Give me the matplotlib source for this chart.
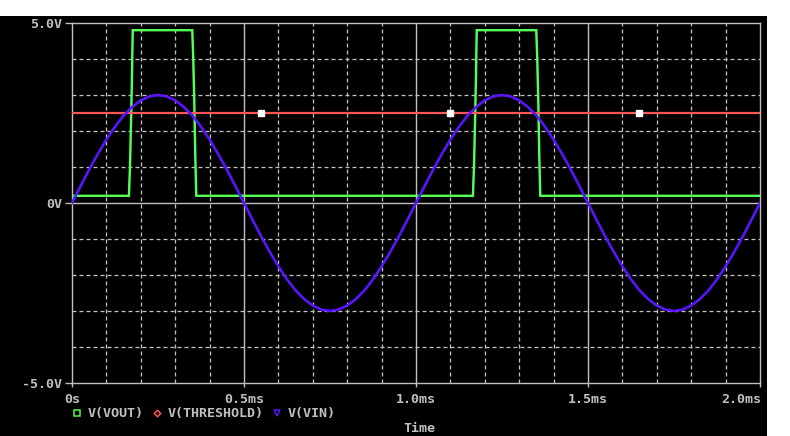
import numpy as np
import matplotlib
matplotlib.use("Agg")
import matplotlib.pyplot as plt
from matplotlib.patches import Rectangle
from matplotlib.lines import Line2D

# ---------------- data ----------------
vin_values = [0.00, 0.47, 0.93, 1.36, 1.76, 2.12, 2.43, 2.67, 2.85, 2.96,
              3.00, 2.96, 2.85, 2.67, 2.43, 2.12, 1.76, 1.36, 0.93, 0.47,
              0.00, -0.47, -0.93, -1.36, -1.76, -2.12, -2.43, -2.67, -2.85, -2.96,
              -3.00, -2.96, -2.85, -2.67, -2.43, -2.12, -1.76, -1.36, -0.93, -0.47,
              0.00, 0.47, 0.93, 1.36, 1.76, 2.12, 2.43, 2.67, 2.85, 2.96,
              3.00, 2.96, 2.85, 2.67, 2.43, 2.12, 1.76, 1.36, 0.93, 0.47,
              0.00, -0.47, -0.93, -1.36, -1.76, -2.12, -2.43, -2.67, -2.85, -2.96,
              -3.00, -2.96, -2.85, -2.67, -2.43, -2.12, -1.76, -1.36, -0.93, -0.47,
              0.00]
vin_time = np.linspace(0.0, 2.0, len(vin_values))  # ms

vout_time = [0.0, 0.1655, 0.1685, 0.1715, 0.1745, 0.1765,
             0.3496, 0.3525, 0.3555, 0.3584, 0.3613,
             1.1655, 1.1685, 1.1715, 1.1745, 1.1765,
             1.3496, 1.3525, 1.3555, 1.3584, 1.3613, 2.0]
vout_values = [0.2, 0.2, 1.0, 2.2, 3.6, 4.8,
               4.8, 4.0, 2.8, 1.3, 0.2,
               0.2, 1.0, 2.2, 3.6, 4.8,
               4.8, 4.0, 2.8, 1.3, 0.2, 0.2]

thr_time = [0.0, 2.0]
thr_values = [2.5, 2.5]
thr_marker_time = [0.549, 1.099, 1.648]
thr_marker_values = [2.5, 2.5, 2.5]

x_ticks = [0.0, 0.5, 1.0, 1.5, 2.0]
x_tick_labels = ["0s", "0.5ms", "1.0ms", "1.5ms", "2.0ms"]
y_ticks = [-5, 0, 5]
y_tick_labels = ["-5.0V", "0V", "5.0V"]
x_minor_grid = [0.1, 0.2, 0.3, 0.4, 0.6, 0.7, 0.8, 0.9, 1.1, 1.2, 1.3, 1.4,
                1.6, 1.7, 1.8, 1.9]
y_minor_grid = [-4, -3, -2, -1, 1, 2, 3, 4]
legend_labels = ["V(VOUT)", "V(THRESHOLD)", "V(VIN)"]

# ---------------- style ----------------
W, H, DPI = 790, 436, 100
GREY = "#c0c0c0"
GREEN = "#55ff55"
RED = "#ff5555"
BLUE = "#5a14ff"
FONT = "DejaVu Sans Mono"
FW = "bold"
FS = 9.6
px = 72.0 / DPI  # points per pixel

plt.rcParams["lines.scale_dashes"] = False

fig = plt.figure(figsize=(W / DPI, H / DPI), dpi=DPI, facecolor="white")
# black panel
fig.patches.append(Rectangle((0, 0), 767 / W, (H - 16) / H, transform=fig.transFigure,
                             facecolor="black", edgecolor="none", zorder=-10))

L, R, T, B = 72, 760, 23, 383
ax = fig.add_axes([L / W, (H - B) / H, (R - L) / W, (B - T) / H])
ax.set_zorder(1)
ax.set_facecolor("black")
ax.set_xlim(0, 2)
ax.set_ylim(-5, 5)

for s in ax.spines.values():
    s.set_color(GREY)
    s.set_linewidth(1.0 * px * 1.4)

dash = (0, (4 * px, 3 * px))
for x in x_minor_grid:
    ax.axvline(x, color=GREY, lw=1.0 * px * 1.3, linestyle=dash, zorder=1)
for y in y_minor_grid:
    ax.axhline(y, color=GREY, lw=1.0 * px * 1.3, linestyle=dash, zorder=1)
for x in [0.5, 1.0, 1.5]:
    ax.axvline(x, color=GREY, lw=1.0 * px * 1.4, zorder=1)
ax.axhline(0, color=GREY, lw=1.0 * px * 1.4, zorder=1)

# traces
ax.plot(vout_time, vout_values, color=GREEN, lw=2.4 * px, zorder=3, solid_joinstyle="miter")
ax.plot(thr_time, thr_values, color=RED, lw=2.2 * px, zorder=4)
ax.plot(thr_marker_time, thr_marker_values, linestyle="none", marker="s",
        markersize=6 * px, markerfacecolor="white", markeredgecolor="white", zorder=6)
ax.plot(vin_time, vin_values, color=BLUE, lw=2.6 * px, zorder=5)

# ticks
ax.set_xticks(x_ticks)
ax.set_xticklabels([])
ax.set_yticks(y_ticks)
ax.set_yticklabels(y_tick_labels, fontfamily=FONT, fontsize=FS, color=GREY, fontweight=FW)
ax.tick_params(axis="y", length=5, width=1.4 * px, color=GREY, pad=2)
ax.tick_params(axis="x", length=3, width=1.4 * px, color=GREY)

# x tick labels placed manually (last one right-aligned)
for i, (xv, lab) in enumerate(zip(x_ticks, x_tick_labels)):
    ha = "right" if i == len(x_ticks) - 1 else "center"
    ax.annotate(lab, xy=(xv, 0), xycoords=("data", "axes fraction"),
                xytext=(0 if i < len(x_ticks) - 1 else 1, -16 * px), textcoords="offset points",
                ha=ha, va="center", fontfamily=FONT, fontsize=FS, color=GREY,
                fontweight=FW, annotation_clip=False)

# legend
ly = (H - 413) / H
items = [(77, 88, "s", GREEN), (157, 168, "D", RED), (277, 288, "v", BLUE)]
for (mx, tx, mk, col), lab in zip(items, legend_labels):
    fig.lines.append(Line2D([mx / W], [ly], transform=fig.transFigure, marker=mk,
                            markersize=(5.5 if mk != "D" else 4.5) * px, markerfacecolor="none",
                            markeredgecolor=col, markeredgewidth=1.5 * px, linestyle="none"))
    fig.text(tx / W, ly, lab, ha="left", va="center", fontfamily=FONT,
             fontsize=FS, color=GREY, fontweight=FW)

fig.text(403 / W, (H - 428) / H, "Time", ha="left", va="center",
         fontfamily=FONT, fontsize=FS, color=GREY, fontweight=FW)

fig.savefig("out.png", dpi=DPI, facecolor="white")
